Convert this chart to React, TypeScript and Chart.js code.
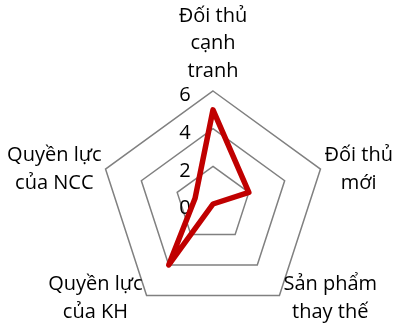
import React, { useEffect, useRef } from "react";
import { Chart, registerables } from "chart.js";

Chart.register(...registerables);

const categories: string[][] = [
  ["Đối thủ", "cạnh", "tranh"],
  ["Đối thủ", "mới"],
  ["Sản phẩm", "thay thế"],
  ["Quyền lực", "của KH"],
  ["Quyền lực", "của NCC"],
];
const seriesValues: number[] = [5, 2, 0, 4, 1];
const tickValues: number[] = [0, 2, 4, 6];
const seriesName = "Mức độ";

const FONT = "'Segoe UI', 'Open Sans', sans-serif";
const FONT_SIZE = 20;
const LINE_H = 27.5;
const TEXT_COLOR = "#000000";

const labelPlugin = {
  id: "customLabels",
  beforeDatasetsDraw(chart: any) {
    const scale = chart.scales.r;
    const ctx = chart.ctx;
    ctx.save();
    ctx.font = `${FONT_SIZE}px ${FONT}`;
    ctx.fillStyle = TEXT_COLOR;
    ctx.textAlign = "center";
    ctx.textBaseline = "middle";
    const cx = scale.xCenter;
    tickValues.forEach((v) => {
      const d = scale.getDistanceFromCenterForValue(v);
      ctx.fillText(String(v), cx - 28, scale.yCenter - d + 4.5);
    });
    ctx.restore();
  },
  afterDraw(chart: any) {
    const scale = chart.scales.r;
    const ctx = chart.ctx;
    const max = tickValues[tickValues.length - 1];
    ctx.save();
    ctx.font = `${FONT_SIZE}px ${FONT}`;
    ctx.fillStyle = TEXT_COLOR;
    ctx.textAlign = "center";
    ctx.textBaseline = "middle";
    categories.forEach((lines, i) => {
      const p = scale.getPointPositionForValue(i, max);
      const widths = lines.map((l) => ctx.measureText(l).width);
      const bw = Math.max(...widths);
      const bh = lines.length * LINE_H;
      const dx = p.x - scale.xCenter;
      let centerX: number;
      let topY: number;
      if (Math.abs(dx) < 1) {
        centerX = p.x;
        topY = p.y - 6 - bh;
      } else if (dx > 0) {
        centerX = p.x + 4 + bw / 2;
        topY = p.y - bh / 2 + (p.y > scale.yCenter ? 3 : 0);
      } else {
        centerX = p.x - 4 - bw / 2;
        topY = p.y - bh / 2 + (p.y > scale.yCenter ? 3 : 0);
      }
      lines.forEach((l, k) => {
        ctx.fillText(l, centerX, topY + LINE_H * (k + 0.5));
      });
    });
    ctx.restore();
  },
};

export default function App() {
  const ref = useRef<HTMLCanvasElement | null>(null);
  useEffect(() => {
    if (!ref.current) return;
    const chart = new Chart(ref.current, {
      type: "radar",
      data: {
        labels: categories,
        datasets: [
          {
            label: seriesName,
            data: seriesValues,
            borderColor: "#C00000",
            backgroundColor: "rgba(0,0,0,0)",
            borderWidth: 5.5,
            borderJoinStyle: "round",
            borderCapStyle: "round",
            pointRadius: 0,
            pointHoverRadius: 0,
            fill: false,
          },
        ],
      },
      options: {
        responsive: false,
        animation: false,
        layout: { padding: { left: 100, top: 91, right: 69, bottom: 13 } },
        plugins: { legend: { display: false }, tooltip: { enabled: false } },
        scales: {
          r: {
            min: 0,
            max: 6,
            ticks: { display: false, stepSize: 2 },
            grid: { color: "#808080", lineWidth: 1.5 },
            angleLines: { display: false },
            pointLabels: { display: false },
          },
        },
      },
      plugins: [labelPlugin],
    });
    return () => chart.destroy();
  }, []);
  return (
    <div style={{ position: "absolute", left: 0, top: 0, width: 395, height: 330, background: "#fff" }}>
      <canvas ref={ref} width={395} height={330} style={{ display: "block" }} />
    </div>
  );
}
